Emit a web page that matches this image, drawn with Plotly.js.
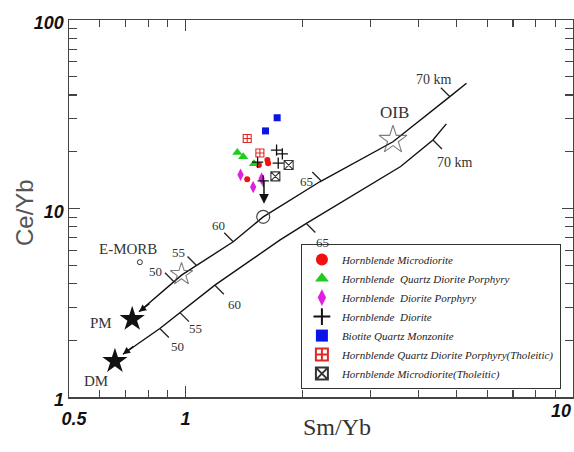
<!DOCTYPE html>
<html><head><meta charset="utf-8">
<script src="https://cdn.plot.ly/plotly-3.0.1.min.js"></script>
<style>html,body{margin:0;padding:0;background:#fff}</style>
</head><body><div id="chart" style="width:574px;height:452px"></div>
<script>
// ---- melting curves (Sm/Yb, Ce/Yb) ----
const pmCurveX = [0.758, 0.976, 1.327, 1.586, 2.22, 3.43, 4.81, 5.31];
const pmCurveY = [2.835, 4.43, 6.66, 9.03, 13.86, 22.6, 39.2, 46.2];
const dmCurveX = [0.689, 0.858, 1.19, 1.75, 2.05, 3.59, 4.35, 4.71];
const dmCurveY = [1.686, 2.31, 3.92, 6.79, 8.33, 16.7, 23.1, 28.1];
// depth marks along curves (km)
const depthLabels = ['50', '55', '60', '65', '70 km'];
const pmDepthX = [0.933, 1.067, 1.327, 2.24, 4.81];
const dmDepthX = [0.858, 0.967, 1.19, 2.05, 4.35];
// reference compositions
const refFilledX = [0.728, 0.657];   // PM, DM
const refFilledY = [2.59, 1.55];
const refStarX = [0.976, 3.43];      // open stars (MORB-type, OIB)
const refStarY = [4.48, 23.1];
const emorbX = [0.762], emorbY = [5.19];
const meltX = [1.586], meltY = [9.03];

// ---- samples ----
const hmX = [1.626, 1.633, 1.546, 1.442];
const hmY = [18.1, 17.4, 17.0, 14.3];
const hqdpX = [1.360, 1.408, 1.501];
const hqdpY = [19.8, 18.8, 17.3];
const hdpX = [1.386, 1.494, 1.571];
const hdpY = [15.1, 13.0, 14.4];
const hdX = [1.717, 1.777, 1.734, 1.586, 1.534];
const hdY = [20.4, 19.5, 17.4, 14.0, 17.6];
const bqmX = [1.723, 1.608];
const bqmY = [30.3, 25.8];
const hqdptX = [1.442, 1.555];
const hqdptY = [23.5, 19.7];
const hmtX = [1.845, 1.705];
const hmtY = [17.0, 14.8];

const seriesNames = [
  'Hornblende Microdiorite',
  'Hornblende\u00a0 Quartz Diorite Porphyry',
  'Hornblende\u00a0 Diorite Porphyry',
  'Hornblende\u00a0 Diorite',
  'Biotite Quartz Monzonite',
  'Hornblende Quartz Diorite Porphyry(Tholeitic)',
  'Hornblende Microdiorite(Tholeitic)'
];
const xTickVals = [0.5, 1, 10], xTickText = ['\u00a0\u00a00.5', '1', ''];
const xEndLabel = '10';
const yTickVals = [1, 10, 100], yTickText = ['1', '10', '100'];
const xMinor = [0.6, 0.7, 0.8, 0.9, 2, 3, 4, 5, 6, 7, 8, 9];
const yMinor = [2, 3, 4, 5, 6, 7, 8, 9, 20, 30, 40, 50, 60, 70, 80, 90];

const W = 574, H = 452, M = {l: 69, r: 1, t: 20, b: 55};
const xRange = [Math.log10(0.5), 1], yRange = [0, 2];
const pxPerDecX = (W - M.l - M.r) / (xRange[1] - xRange[0]);
const pxPerDecY = (H - M.t - M.b) / (yRange[1] - yRange[0]);

function interpLog(xs, ys, x) {
  const lx = Math.log10(x);
  for (let i = 0; i < xs.length - 1; i++) {
    const a = Math.log10(xs[i]), b = Math.log10(xs[i + 1]);
    if (lx >= a && lx <= b) {
      const t = (lx - a) / (b - a);
      return Math.pow(10, Math.log10(ys[i]) + t * (Math.log10(ys[i + 1]) - Math.log10(ys[i])));
    }
  }
  return ys[ys.length - 1];
}
// short tick segments (offset given in screen pixels, y down)
function depthTicks(cx, cy, xs, dx, dy) {
  const tx = [], ty = [];
  xs.forEach(function (x) {
    const y = interpLog(cx, cy, x);
    tx.push(x, x * Math.pow(10, dx / pxPerDecX), null);
    ty.push(y, y * Math.pow(10, -dy / pxPerDecY), null);
  });
  return {x: tx, y: ty};
}
const pmTicks = depthTicks(pmCurveX, pmCurveY, pmDepthX, -9, -9);
const dmTicks = depthTicks(dmCurveX, dmCurveY, dmDepthX, 9, 9);

const lineStyle = {color: '#111', width: 1.4};
const traces = [
  {x: pmCurveX, y: pmCurveY, mode: 'lines', line: lineStyle, showlegend: false, hoverinfo: 'skip'},
  {x: dmCurveX, y: dmCurveY, mode: 'lines', line: lineStyle, showlegend: false, hoverinfo: 'skip'},
  {x: pmTicks.x, y: pmTicks.y, mode: 'lines', line: {color: '#222', width: 1.3}, showlegend: false, connectgaps: false},
  {x: dmTicks.x, y: dmTicks.y, mode: 'lines', line: {color: '#222', width: 1.3}, showlegend: false, connectgaps: false},
  {x: refFilledX, y: refFilledY, mode: 'markers', showlegend: false,
   marker: {symbol: 'star', size: 19, color: '#111', line: {width: 0}}},
  {x: refStarX, y: refStarY, mode: 'markers', showlegend: false,
   marker: {symbol: 'star-open', size: [17, 21], color: '#444', line: {width: 1.1}}},
  {x: emorbX, y: emorbY, mode: 'markers', showlegend: false,
   marker: {symbol: 'circle-open', size: 5, color: '#333', line: {width: 1}}},
  {x: meltX, y: meltY, mode: 'markers', showlegend: false,
   marker: {symbol: 'circle-open', size: 13, color: '#444', line: {width: 1.2}}},
  {x: hmX, y: hmY, name: seriesNames[0], mode: 'markers',
   marker: {symbol: 'circle', size: 6, color: '#f01010'}},
  {x: hqdpX, y: hqdpY, name: seriesNames[1], mode: 'markers',
   marker: {symbol: 'triangle-up', size: 9, color: '#1ecc1e'}},
  {x: hdpX, y: hdpY, name: seriesNames[2], mode: 'markers',
   marker: {symbol: 'diamond-tall', size: 9, color: '#e020e0'}},
  {x: hdX, y: hdY, name: seriesNames[3], mode: 'markers',
   marker: {symbol: 'cross-thin-open', size: 8, color: '#111', line: {width: 1.3, color: '#111'}}},
  {x: bqmX, y: bqmY, name: seriesNames[4], mode: 'markers',
   marker: {symbol: 'square', size: 7, color: '#0a14e6'}},
  {x: hqdptX, y: hqdptY, name: seriesNames[5], mode: 'markers',
   marker: {symbol: 'square-cross-open', size: 8, color: '#e02828', line: {width: 1.1}}},
  {x: hmtX, y: hmtY, name: seriesNames[6], mode: 'markers',
   marker: {symbol: 'square-x-open', size: 9, color: '#333', line: {width: 1.1}}}
];

const serif = 'Liberation Serif, Times New Roman, serif';
function txt(text, lx, ly, size) {
  return {text: text, x: lx, y: ly, xref: 'x', yref: 'y', showarrow: false,
    xanchor: 'center', yanchor: 'middle',
    font: {family: serif, size: size, color: '#333'}};
}
const tickFont = {family: 'Liberation Sans, Arial, sans-serif', size: 18, color: '#111', weight: 'bold', style: 'italic'};
const annotations = [
  txt('E-MORB', -0.149, 0.784, 15),
  txt('PM', -0.2185, 0.391, 15),
  txt('DM', -0.2314, 0.083, 15),
  txt('OIB', 0.5387, 1.509, 17),
  txt('70 km', 0.6406, 1.682, 14),
  txt('70 km', 0.6948, 1.2465, 14),
  txt('65', 0.313, 1.1455, 13),
  txt('65', 0.3529, 0.8216, 13),
  txt('60', 0.0846, 0.9118, 13),
  txt('55', -0.0173, 0.7684, 13),
  txt('50', -0.0766, 0.6675, 13),
  txt('50', -0.0212, 0.2693, 13),
  txt('55', 0.0253, 0.3622, 13),
  txt('60', 0.1264, 0.4923, 13),
  // x-axis end label, kept inside the picture
  {text: xEndLabel, xref: 'paper', yref: 'paper', x: 1, y: -0.038, xanchor: 'right', yanchor: 'middle',
   showarrow: false, font: tickFont},
  // arrow heads at the source ends of the curves
  {x: Math.log10(pmCurveX[0]), y: Math.log10(pmCurveY[0]), xref: 'x', yref: 'y', text: '',
   showarrow: true, arrowhead: 2, arrowsize: 1.1, arrowwidth: 1.3, arrowcolor: '#111', ax: 12, ay: -9},
  {x: Math.log10(dmCurveX[0]), y: Math.log10(dmCurveY[0]), xref: 'x', yref: 'y', text: '',
   showarrow: true, arrowhead: 2, arrowsize: 1.1, arrowwidth: 1.3, arrowcolor: '#111', ax: 12, ay: -9},
  // arrow from samples to the melt composition
  {x: Math.log10(meltX[0]) + 0.002, y: Math.log10(meltY[0]) + 0.07, xref: 'x', yref: 'y', text: '',
   showarrow: true, arrowhead: 2, arrowsize: 1.3, arrowwidth: 1.5, arrowcolor: '#111', ax: 0, ay: -25},
  // axis titles
  {text: 'Ce/Yb', xref: 'paper', yref: 'paper', x: -0.0893, y: 0.4907, textangle: -90, showarrow: false,
   xanchor: 'center', yanchor: 'middle',
   font: {family: 'Liberation Sans, Arial, sans-serif', size: 24, color: '#555'}},
  {text: 'Sm/Yb', xref: 'paper', yref: 'paper', x: 0.5327, y: -0.0796, showarrow: false,
   xanchor: 'center', yanchor: 'middle',
   font: {family: serif, size: 24, color: '#333'}}
];

const axisCommon = {
  type: 'log', showgrid: false, zeroline: false, showline: true, linecolor: '#444', linewidth: 1.5,
  mirror: 'ticks', ticks: 'inside', ticklen: 11, tickwidth: 1.2, tickcolor: '#444',
  tickfont: tickFont, tickmode: 'array', fixedrange: true, ticklabeloverflow: 'allow'
};
const layout = {
  width: W, height: H,
  margin: M,
  paper_bgcolor: '#fff', plot_bgcolor: '#fff',
  xaxis: Object.assign({}, axisCommon, {
    range: xRange, tickvals: xTickVals, ticktext: xTickText, ticklabelstandoff: 5,
    minor: {tickmode: 'array', tickvals: xMinor, ticks: 'inside', ticklen: 7, tickcolor: '#444', tickwidth: 1.1, showgrid: false}
  }),
  yaxis: Object.assign({}, axisCommon, {
    range: yRange, tickvals: yTickVals, ticktext: yTickText, ticklabelshift: 3,
    minor: {tickmode: 'array', tickvals: yMinor, ticks: 'inside', ticklen: 8, tickcolor: '#444', tickwidth: 1.1, showgrid: false}
  }),
  legend: {
    x: 0.976, y: 0.021, xanchor: 'right', yanchor: 'bottom',
    bgcolor: '#fff', bordercolor: '#333', borderwidth: 1,
    font: {family: serif, size: 11, color: '#222', style: 'italic'},
    itemsizing: 'constant', tracegroupgap: 0
  },
  annotations: annotations,
  showlegend: true
};
Plotly.newPlot('chart', traces, layout, {displayModeBar: false, staticPlot: true});
</script></body></html>
